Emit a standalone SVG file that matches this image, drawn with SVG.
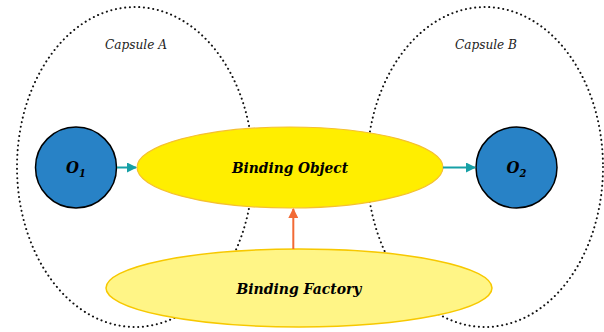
<svg xmlns="http://www.w3.org/2000/svg" width="604" height="332" viewBox="0 0 604 332">
<style>
.cap{fill:none;stroke:#111;stroke-width:2;stroke-dasharray:0.1 4.6;stroke-linecap:round}
.caplbl{font-style:italic;font-size:12px;fill:#222;text-anchor:middle}
.obj{fill:#2882c6;stroke:#000;stroke-width:1.5}
.olbl{font-style:italic;font-weight:bold;font-size:16.5px;fill:#000;text-anchor:middle}
.big{font-style:italic;font-weight:bold;font-size:15.5px;fill:#000;text-anchor:middle}
.teal{stroke:#17a0a6;stroke-width:2;fill:none}
.orange{stroke:#f26a35;stroke-width:2;fill:none}
</style>
<defs>
<marker id="mt" markerWidth="10" markerHeight="10" refX="9" refY="5" orient="auto" markerUnits="userSpaceOnUse"><path d="M0,0 L10,5 L0,10 Z" fill="#17a0a6"/></marker>
<marker id="mo" markerWidth="10" markerHeight="10" refX="9" refY="5" orient="auto" markerUnits="userSpaceOnUse"><path d="M0,0 L10,5 L0,10 Z" fill="#f26a35"/></marker>
</defs>
<g id="capsuleA">
<ellipse class="cap" cx="135" cy="167" rx="118" ry="160"/>
<text class="caplbl" font-family="DejaVu Serif Condensed, DejaVu Serif, serif" x="136" y="49" textLength="62" lengthAdjust="spacingAndGlyphs">Capsule A</text>
</g>
<g id="capsuleB">
<ellipse class="cap" cx="485" cy="167" rx="118" ry="160"/>
<text class="caplbl" font-family="DejaVu Serif Condensed, DejaVu Serif, serif" x="486" y="49" textLength="62" lengthAdjust="spacingAndGlyphs">Capsule B</text>
</g>
<g id="bindingFactory">
<ellipse cx="299" cy="288" rx="193" ry="39" fill="#fff586" stroke="#f7c800" stroke-width="1.5"/>
<text class="big" font-family="DejaVu Serif Condensed, DejaVu Serif, serif" x="299" y="293.5" textLength="125" lengthAdjust="spacingAndGlyphs">Binding Factory</text>
</g>
<g id="bindingObject">
<ellipse cx="290" cy="167.5" rx="153" ry="40.5" fill="#ffee00" stroke="#f5c030" stroke-width="1.2"/>
<text class="big" font-family="DejaVu Serif Condensed, DejaVu Serif, serif" x="290" y="172.5" textLength="116" lengthAdjust="spacingAndGlyphs">Binding Object</text>
</g>
<g id="o1">
<circle class="obj" cx="76" cy="167.5" r="40.5"/>
<text class="olbl" font-family="DejaVu Serif Condensed, DejaVu Serif, serif" x="76" y="173">O<tspan font-size="11" dy="4">1</tspan></text>
</g>
<g id="o2">
<circle class="obj" cx="516.5" cy="167.5" r="40.5"/>
<text class="olbl" font-family="DejaVu Serif Condensed, DejaVu Serif, serif" x="516.5" y="173">O<tspan font-size="11" dy="4">2</tspan></text>
</g>
<g id="connectors">
<line class="teal" x1="117" y1="167.5" x2="136" y2="167.5" marker-end="url(#mt)"/>
<line class="teal" x1="443" y1="167.5" x2="475" y2="167.5" marker-end="url(#mt)"/>
<line class="orange" x1="293.3" y1="249" x2="293.3" y2="209" marker-end="url(#mo)"/>
</g>
</svg>
